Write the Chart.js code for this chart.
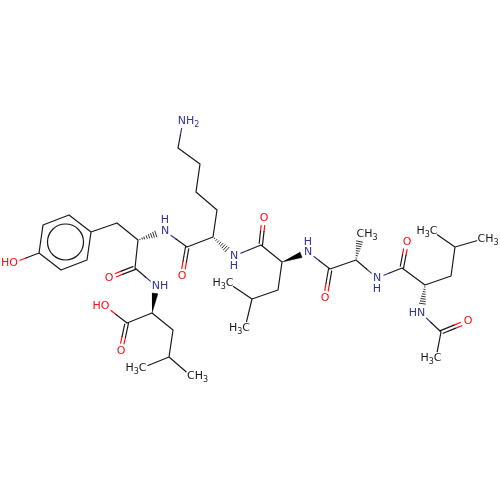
<!DOCTYPE html>
<html><head><meta charset="utf-8">
<style>html,body{margin:0;padding:0;background:#fff}canvas{display:block}</style>
<script src="https://cdn.jsdelivr.net/npm/chart.js@4"></script>
</head><body><canvas id="c" width="500" height="500"></canvas>
<script>
const atomX=[39,43,69,91,87,61,13,117,138,165,135,109,156,152,127,121,105,173,169,142,191,187,182,213,217,196,200,178,183,234,261,264,282,308,278,252,228,245,330,325,356,361,377,402,407,425,451,455,432,483,421,441,468,436];
const atomY=[253,225,215,232,260,270,263,223,240,231,268,278,286,313,323,351,306,330,357,368,376,247,276,237,210,192,164,148,121,256,245,218,262,252,290,299,283,328,269,298,260,234,278,268,242,285,276,247,231,239,313,332,321,358];
const nitrogenAtoms=[9,12,28,29,33,42,50];
const oxygenAtoms=[6,11,15,16,22,31,39,44,52];
const methylAtoms=[19,20,36,37,41,48,49,53];
const singleBonds=[[0,1],[1,2],[2,3],[3,4],[4,5],[5,0],[0,6],[3,7],[7,8],[8,10],[10,12],[13,14],[14,16],[13,17],[17,18],[18,19],[18,20],[9,21],[21,23],[23,24],[24,25],[25,26],[26,27],[27,28],[29,30],[30,32],[32,34],[34,35],[35,36],[35,37],[33,38],[38,40],[40,42],[42,43],[43,45],[45,46],[46,47],[47,48],[47,49],[50,51],[51,53]];
const doubleBonds=[[10,11,1],[14,15,1],[21,22,-1],[30,31,-1],[38,39,-1],[43,44,-1],[51,52,1]];
const solidWedges=[[32,33],[13,12]];
const hashedWedges=[[8,9],[23,29],[40,41],[45,50]];
const ringCentre=[65.5,242];
const labelText=['HO','H','N','O','NH','HO','O','H3C','CH3','O','NH2','N','H','O','N','H','H3C','H3C','O','CH3','N','H','O','H3C','CH3','HN','O','H3C'];
const labelX=[9.5,165,165,109,160,101,121,136,197.5,182,188.5,234,234,264,308,308,223,239.5,325,367,377,377,407,427,488,417,468,431];
const labelY=[263,220,231,278,286,306,351,368,376,276,121,256,266,218,252,242,283,328,298,234,278,289,242,231,239,313,321,358];
const labelKind=['O','N','N','O','N','O','O','C','C','O','N','N','N','O','N','N','C','C','O','C','N','N','O','C','C','N','O','C'];

const BLUE='#33339a',RED='#ff0d0d',BLACK='#1a1a1a';
const colourOf={C:BLACK,N:BLUE,O:RED};
const kind=i=>nitrogenAtoms.includes(i)?'N':oxygenAtoms.includes(i)?'O':'C';
const trim=i=>kind(i)!=='C'?7.5:methylAtoms.includes(i)?6.5:0;
const gap={x:null,y:null};
const segs={C:[],N:[],O:[]};
function seg(k,p,q){segs[k].push({x:p[0],y:p[1]},{x:q[0],y:q[1]},gap);}
function bond(a,b,off,endTrim){
  const ax=atomX[a],ay=atomY[a],bx=atomX[b],by=atomY[b],d=Math.hypot(bx-ax,by-ay),ux=(bx-ax)/d,uy=(by-ay)/d;
  const nx=-uy*(off||0),ny=ux*(off||0);
  const ta=trim(a)+(endTrim||0),tb=trim(b);
  const p=[ax+ux*ta+nx,ay+uy*ta+ny],q=[bx-ux*tb+nx,by-uy*tb+ny],m=[(ax+bx)/2+nx,(ay+by)/2+ny];
  const ka=kind(a),kb=kind(b);
  if(ka===kb)seg(ka,p,q);else{seg(ka,p,m);seg(kb,m,q);}
}
singleBonds.forEach(b=>bond(b[0],b[1]));
doubleBonds.forEach(b=>{bond(b[0],b[1],-b[2]*1.5);bond(b[0],b[1],b[2]*2,1.5);});
const hash=[];
hashedWedges.forEach(([a,b])=>{
  const ax=atomX[a],ay=atomY[a],bx=atomX[b],by=atomY[b],d=Math.hypot(bx-ax,by-ay),ux=(bx-ax)/d,uy=(by-ay)/d,len=d-trim(b);
  for(let s=2;s<len;s+=2.4){const w=s/len*3.4;
    hash.push({x:ax+ux*s-uy*w,y:ay+uy*s+ux*w},{x:ax+ux*s+uy*w,y:ay+uy*s-ux*w},gap);}
});
const wedgeSets=solidWedges.map(([a,b])=>{
  const ax=atomX[a],ay=atomY[a],bx=atomX[b],by=atomY[b],d=Math.hypot(bx-ax,by-ay),ux=(bx-ax)/d,uy=(by-ay)/d,len=d-trim(b),ex=ax+ux*len,ey=ay+uy*len;
  return {data:[{x:ax,y:ay},{x:ex-uy*3,y:ey+ux*3},{x:ex+uy*3,y:ey-ux*3}],showLine:true,fill:'shape',backgroundColor:'#000',borderColor:'#000',borderWidth:0.5,pointRadius:0,tension:0};
});
const lineSet=(data,c,w)=>({data,showLine:true,fill:false,borderColor:c,borderWidth:w,pointRadius:0,spanGaps:false,tension:0,borderCapStyle:'round'});
const labels={id:'labels',afterDraw(ch){
  const c=ch.ctx,sx=ch.scales.x,sy=ch.scales.y,big='11px "DejaVu Sans"',small='8px "DejaVu Sans"';
  c.save();c.textBaseline='middle';c.textAlign='left';
  labelText.forEach((t,i)=>{
    let w=0;for(const l of t){c.font=/\d/.test(l)?small:big;w+=c.measureText(l).width;}
    let x=sx.getPixelForValue(labelX[i])-w/2;const y=sy.getPixelForValue(labelY[i]);
    c.fillStyle=colourOf[labelKind[i]];
    for(const l of t){const sub=/\d/.test(l);c.font=sub?small:big;c.fillText(l,x,y+(sub?3.5:0));x+=c.measureText(l).width;}
  });
  c.restore();
}};
new Chart(document.getElementById('c'),{type:'scatter',
  data:{datasets:[
    lineSet(segs.C,BLACK,1.2),lineSet(segs.N,BLUE,1.2),lineSet(segs.O,RED,1.2),lineSet(hash,'#000',0.8),...wedgeSets,
    {data:[{x:ringCentre[0],y:ringCentre[1]}],pointRadius:18,pointBorderWidth:1.2,pointBorderColor:BLACK,pointBackgroundColor:'rgba(0,0,0,0)'}
  ]},
  options:{responsive:false,animation:false,devicePixelRatio:1,layout:{padding:0,autoPadding:false},events:[],
    plugins:{legend:{display:false},tooltip:{enabled:false},title:{display:false}},
    scales:{x:{type:'linear',min:0,max:500,display:false},y:{type:'linear',min:0,max:500,reverse:true,display:false}}},
  plugins:[labels]});
</script></body></html>
